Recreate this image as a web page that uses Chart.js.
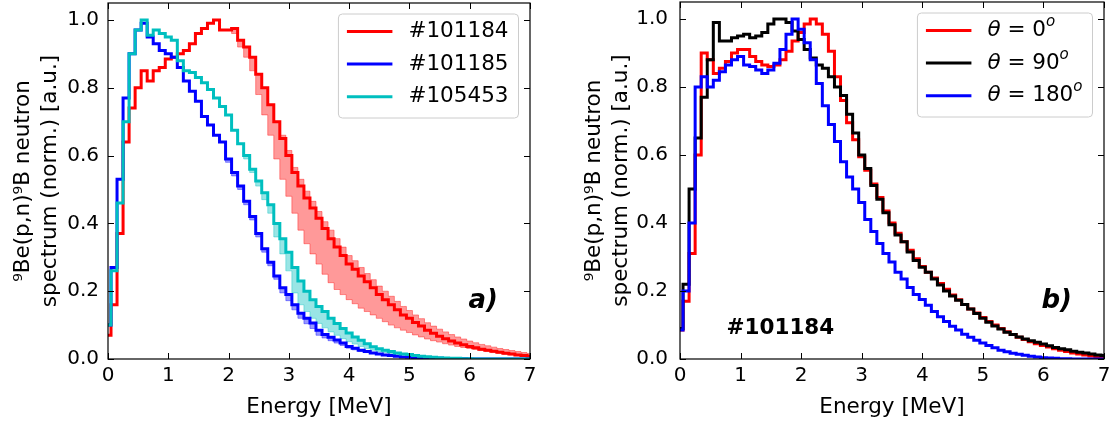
<!DOCTYPE html>
<html>
<head>
<meta charset="utf-8">
<script src="https://cdn.jsdelivr.net/npm/chart.js@4"></script>
<style>
  body { margin: 0; background: #fff; }
  #wrap { position: relative; width: 1116px; height: 423px; }
  canvas { position: absolute; top: 0; }
</style>
</head>
<body>
<div id="wrap">
  <canvas id="chartA" width="558" height="423" style="left:0"></canvas>
  <canvas id="chartB" width="558" height="423" style="left:558px"></canvas>
</div>
<script>
// energia en MeV (inicio de cada bin de 0.1 MeV)
const energia = [0.0,0.1,0.2,0.3,0.4,0.5,0.6,0.7,0.8,0.9,1.0,1.1,1.2,1.3,1.4,1.5,1.6,1.7,1.8,1.9,
  2.0,2.1,2.2,2.3,2.4,2.5,2.6,2.7,2.8,2.9,3.0,3.1,3.2,3.3,3.4,3.5,3.6,3.7,3.8,3.9,
  4.0,4.1,4.2,4.3,4.4,4.5,4.6,4.7,4.8,4.9,5.0,5.1,5.2,5.3,5.4,5.5,5.6,5.7,5.8,5.9,
  6.0,6.1,6.2,6.3,6.4,6.5,6.6,6.7,6.8,6.9,7.0];

const xTicks = [0, 1, 2, 3, 4, 5, 6, 7];
const yTicks = [0, 0.2, 0.4, 0.6, 0.8, 1.0];

// panel a) tres disparos
const disparos = ['#101184', '#101185', '#105453'];
const aRojo = [0.07,0.16,0.37,0.64,0.74,0.80,0.85,0.82,0.85,0.86,0.885,0.89,0.90,0.91,0.93,0.96,0.975,0.99,1.0,0.97,
  0.97,0.975,0.94,0.92,0.89,0.84,0.80,0.75,0.70,0.65,0.60,0.55,0.51,0.475,0.445,0.415,0.385,0.355,0.33,0.305,
  0.28,0.265,0.245,0.228,0.21,0.19,0.175,0.16,0.145,0.13,0.12,0.108,0.097,0.085,0.076,0.067,0.06,0.053,0.047,0.042,
  0.037,0.033,0.029,0.026,0.023,0.02,0.017,0.015,0.012,0.01,0.008];
const aRojoBajo = [0.07,0.16,0.37,0.64,0.74,0.80,0.85,0.82,0.85,0.86,0.885,0.89,0.90,0.91,0.93,0.96,0.975,0.99,1.0,0.97,
  0.97,0.96,0.92,0.89,0.85,0.78,0.72,0.66,0.59,0.53,0.48,0.43,0.38,0.34,0.31,0.28,0.25,0.225,0.205,0.19,
  0.175,0.163,0.15,0.14,0.13,0.12,0.11,0.10,0.092,0.085,0.078,0.071,0.065,0.059,0.054,0.05,0.045,0.041,0.037,0.034,
  0.031,0.028,0.025,0.022,0.019,0.017,0.014,0.012,0.01,0.008,0.006];
const aRojoAlto = [0.07,0.16,0.37,0.64,0.74,0.80,0.85,0.82,0.85,0.86,0.885,0.89,0.90,0.91,0.93,0.96,0.975,0.99,1.0,0.97,
  0.97,0.975,0.94,0.92,0.89,0.84,0.80,0.75,0.70,0.66,0.615,0.565,0.53,0.495,0.465,0.435,0.405,0.38,0.355,0.33,
  0.305,0.29,0.27,0.252,0.234,0.215,0.2,0.185,0.17,0.155,0.143,0.13,0.119,0.107,0.097,0.088,0.08,0.072,0.065,0.059,
  0.053,0.048,0.043,0.039,0.035,0.031,0.028,0.025,0.022,0.019,0.016];
const aAzul = [0.10,0.27,0.53,0.77,0.90,0.97,0.99,0.95,0.93,0.91,0.90,0.89,0.86,0.82,0.79,0.76,0.715,0.69,0.66,0.64,
  0.59,0.55,0.51,0.465,0.42,0.37,0.325,0.285,0.245,0.21,0.19,0.16,0.135,0.12,0.106,0.085,0.072,0.064,0.056,0.047,
  0.037,0.032,0.026,0.022,0.018,0.015,0.012,0.01,0.008,0.006,0.005,0.004,0.003,0.003,0.002,0.002,0.001,0.001,0.001,0.001,
  0,0,0,0,0,0,0,0,0,0,0];
const aAzulBajo = [0.10,0.27,0.53,0.77,0.90,0.97,0.99,0.95,0.93,0.91,0.90,0.89,0.86,0.82,0.79,0.76,0.715,0.69,0.66,0.64,
  0.58,0.54,0.50,0.455,0.41,0.36,0.315,0.275,0.235,0.195,0.172,0.145,0.12,0.104,0.09,0.07,0.062,0.054,0.047,0.04,
  0.032,0.027,0.022,0.019,0.018,0.015,0.012,0.01,0.008,0.006,0.005,0.004,0.003,0.003,0.002,0.002,0.001,0.001,0.001,0.001,
  0,0,0,0,0,0,0,0,0,0,0];
const aCian = [0.10,0.26,0.46,0.70,0.90,0.97,1.0,0.955,0.97,0.96,0.95,0.94,0.88,0.85,0.845,0.83,0.815,0.795,0.77,0.745,
  0.72,0.675,0.635,0.60,0.56,0.525,0.49,0.455,0.40,0.355,0.315,0.27,0.23,0.20,0.175,0.155,0.14,0.12,0.105,0.09,
  0.077,0.065,0.055,0.045,0.036,0.03,0.026,0.022,0.018,0.015,0.013,0.01,0.008,0.007,0.005,0.004,0.003,0.002,0.002,0.001,
  0.001,0,0,0,0,0,0,0,0,0,0];
const aCianBajo = [0.10,0.26,0.46,0.70,0.90,0.97,1.0,0.955,0.97,0.96,0.95,0.94,0.88,0.85,0.845,0.83,0.815,0.795,0.77,0.745,
  0.72,0.675,0.635,0.59,0.55,0.51,0.47,0.43,0.36,0.31,0.26,0.195,0.16,0.14,0.12,0.105,0.092,0.08,0.07,0.06,
  0.051,0.044,0.037,0.031,0.026,0.022,0.019,0.016,0.014,0.015,0.013,0.01,0.008,0.007,0.005,0.004,0.003,0.002,0.002,0.001,
  0.001,0,0,0,0,0,0,0,0,0,0];

// panel b) disparo #101184 a tres angulos
const angulos = [0, 90, 180];
const bRojo = [0.085,0.17,0.31,0.60,0.90,0.88,0.84,0.855,0.875,0.90,0.91,0.91,0.89,0.875,0.865,0.86,0.865,0.88,0.905,0.935,
  0.96,0.985,1.0,0.985,0.955,0.905,0.83,0.76,0.695,0.645,0.595,0.555,0.515,0.475,0.435,0.40,0.37,0.345,0.32,0.295,
  0.272,0.255,0.238,0.222,0.205,0.188,0.174,0.16,0.147,0.135,0.122,0.11,0.10,0.09,0.08,0.072,0.064,0.057,0.051,0.045,
  0.04,0.035,0.03,0.026,0.022,0.018,0.015,0.012,0.009,0.007,0.005];
const bNegro = [0.09,0.22,0.50,0.65,0.77,0.88,0.99,0.935,0.935,0.945,0.95,0.955,0.945,0.95,0.96,0.985,1.0,1.0,0.99,0.965,
  0.94,0.91,0.885,0.865,0.855,0.83,0.80,0.775,0.72,0.665,0.60,0.56,0.51,0.47,0.43,0.395,0.365,0.345,0.315,0.29,
  0.27,0.255,0.235,0.218,0.20,0.185,0.173,0.16,0.147,0.134,0.12,0.108,0.097,0.088,0.079,0.072,0.065,0.059,0.054,0.049,
  0.044,0.039,0.034,0.03,0.027,0.023,0.02,0.018,0.015,0.012,0.01];
const bAzul = [0.085,0.2,0.40,0.80,0.83,0.80,0.82,0.845,0.865,0.88,0.89,0.865,0.86,0.85,0.84,0.85,0.87,0.91,0.955,1.0,
  0.97,0.93,0.88,0.81,0.745,0.69,0.64,0.58,0.535,0.50,0.46,0.41,0.375,0.34,0.31,0.285,0.255,0.235,0.21,0.19,
  0.175,0.158,0.14,0.124,0.11,0.096,0.085,0.073,0.064,0.055,0.047,0.04,0.033,0.026,0.021,0.017,0.014,0.011,0.008,0.006,
  0.004,0.003,0.002,0.001,0.001,0,0,0,0,0,0];

const yTitulo = ['\u2079Be(p,n)\u2079B neutron', 'spectrum (norm.) [a.u.]'];
const FAM = "'DejaVu Sans'";

Chart.defaults.font.family = FAM;
Chart.defaults.color = '#000';

function puntos(arr) {
  return energia.map((e, i) => ({ x: e, y: arr[i] }));
}

function linea(arr, color, orden, partes) {
  return { data: puntos(arr), borderColor: color, borderWidth: 3, pointRadius: 0,
    stepped: 'middle', fill: false, order: orden, partes: partes };
}

function banda(arr, color, relleno) {
  return { data: puntos(arr), borderColor: color, borderWidth: 1, pointRadius: 0,
    stepped: 'middle', fill: relleno ? '-1' : false, backgroundColor: color, order: 10 };
}

function fuente(p, size) {
  if (p.sup) return 'italic ' + (size * 0.7) + 'px ' + FAM;
  return (p.it ? 'italic ' : '') + size + 'px ' + FAM;
}

// marco, ticks hacia dentro, leyenda y rotulos
const marco = {
  id: 'marco',
  afterDraw(chart, args, op) {
    const { ctx, chartArea: a, scales: { x, y } } = chart;
    ctx.save();
    ctx.strokeStyle = '#000';
    ctx.lineWidth = 1;
    ctx.beginPath();
    x.ticks.forEach(t => {
      const px = Math.round(x.getPixelForValue(t.value)) + 0.5;
      ctx.moveTo(px, a.bottom); ctx.lineTo(px, a.bottom - 6);
      ctx.moveTo(px, a.top); ctx.lineTo(px, a.top + 6);
    });
    y.ticks.forEach(t => {
      const py = Math.round(y.getPixelForValue(t.value)) + 0.5;
      ctx.moveTo(a.left, py); ctx.lineTo(a.left + 6, py);
      ctx.moveTo(a.right, py); ctx.lineTo(a.right - 6, py);
    });
    ctx.stroke();
    ctx.lineWidth = 1.2;
    ctx.strokeRect(a.left, a.top, a.right - a.left, a.bottom - a.top);

    // leyenda
    const size = 21.5;
    const items = chart.data.datasets.filter(d => d.partes);
    let maxW = 0;
    items.forEach(d => {
      let w = 0;
      d.partes.forEach(p => { ctx.font = fuente(p, size); w += ctx.measureText(p.t).width; });
      maxW = Math.max(maxW, w);
    });
    const bw = 70 + maxW + 10, bh = 104;
    const bx = a.right - 11.5 - bw, by = a.top + 11;
    ctx.beginPath();
    ctx.roundRect(bx, by, bw, bh, 4);
    ctx.fillStyle = 'rgba(255,255,255,0.8)';
    ctx.fill();
    ctx.strokeStyle = '#cccccc';
    ctx.lineWidth = 1;
    ctx.stroke();
    items.forEach((d, i) => {
      const ry = by + 17.5 + i * 32.6;
      ctx.beginPath();
      ctx.strokeStyle = d.borderColor;
      ctx.lineWidth = 3;
      ctx.moveTo(bx + 8.5, ry); ctx.lineTo(bx + 54, ry);
      ctx.stroke();
      let tx = bx + 70;
      ctx.fillStyle = '#000';
      ctx.textBaseline = 'middle';
      ctx.textAlign = 'left';
      d.partes.forEach(p => {
        ctx.font = fuente(p, size);
        ctx.fillText(p.t, tx, p.sup ? ry - size * 0.38 : ry);
        tx += ctx.measureText(p.t).width;
      });
    });

    // rotulo del panel
    ctx.fillStyle = '#000';
    ctx.textBaseline = 'alphabetic';
    ctx.textAlign = 'right';
    ctx.font = 'italic bold 26px ' + FAM;
    ctx.fillText(op.rotulo, a.right - 32, a.bottom - 51);
    if (op.nota) {
      ctx.textAlign = 'left';
      ctx.font = 'bold 21.5px ' + FAM;
      ctx.fillText(op.nota, a.left + 46.5, a.bottom - 25);
    }
    ctx.restore();
  }
};

function escalas(anchoY, padTitulo, padTicks) {
  return {
    x: {
      type: 'linear', min: 0, max: 7,
      afterBuildTicks: s => { s.ticks = xTicks.map(v => ({ value: v })); },
      grid: { display: false, drawTicks: false },
      border: { display: false },
      ticks: { font: { size: 20 }, color: '#000', padding: 5, maxRotation: 0, callback: v => String(v) },
      title: { display: true, text: 'Energy [MeV]', color: '#000', font: { size: 21.5 }, padding: { top: 0, bottom: 3 } },
      afterFit: s => { s.height = 64; s.paddingLeft = 0; s.paddingRight = 0; }
    },
    y: {
      type: 'linear', min: 0, max: 1.05,
      afterBuildTicks: s => { s.ticks = yTicks.map(v => ({ value: v })); },
      grid: { display: false, drawTicks: false },
      border: { display: false },
      ticks: { font: { size: 20 }, color: '#000', padding: padTicks, callback: v => v.toFixed(1) },
      title: { display: true, text: yTitulo, color: '#000', font: { size: 21.5, lineHeight: 27 / 21.5 }, padding: { top: padTitulo, bottom: 0 } },
      afterFit: s => { s.width = anchoY; s.paddingTop = 0; s.paddingBottom = 0; }
    }
  };
}

function opciones(anchoY, padTitulo, padTicks, padDer, padSup, rotulo, nota) {
  return {
    responsive: false,
    animation: false,
    layout: { padding: { left: 0, right: padDer, top: padSup, bottom: 0 } },
    scales: escalas(anchoY, padTitulo, padTicks),
    plugins: { legend: { display: false }, tooltip: { enabled: false }, marco: { rotulo: rotulo, nota: nota } }
  };
}

new Chart(document.getElementById('chartA'), {
  type: 'line',
  data: {
    datasets: [
      linea(aRojo, '#ff0000', 3, [{ t: disparos[0] }]),
      linea(aAzul, '#0000ff', 2, [{ t: disparos[1] }]),
      linea(aCian, '#00bfbf', 1, [{ t: disparos[2] }]),
      banda(aRojoBajo, 'rgba(255,0,0,0.4)', false),
      banda(aRojoAlto, 'rgba(255,0,0,0.4)', true),
      banda(aAzulBajo, 'rgba(0,0,255,0.4)', false),
      banda(aAzul, 'rgba(0,0,255,0.4)', true),
      banda(aCianBajo, 'rgba(0,191,191,0.4)', false),
      banda(aCian, 'rgba(0,191,191,0.4)', true)
    ]
  },
  options: opciones(108, 9.5, 9, 28, 3, 'a)', null),
  plugins: [marco]
});

function partesAngulo(a) {
  return [{ t: '\u03b8', it: true }, { t: ' = ' + a }, { t: 'o', sup: true }];
}

new Chart(document.getElementById('chartB'), {
  type: 'line',
  data: {
    datasets: [
      linea(bRojo, '#ff0000', 3, partesAngulo(angulos[0])),
      linea(bNegro, '#000000', 2, partesAngulo(angulos[1])),
      linea(bAzul, '#0000ff', 1, partesAngulo(angulos[2]))
    ]
  },
  options: opciones(122, 22.5, 12, 12, 2, 'b)', '#101184'),
  plugins: [marco]
});
</script>
</body>
</html>
